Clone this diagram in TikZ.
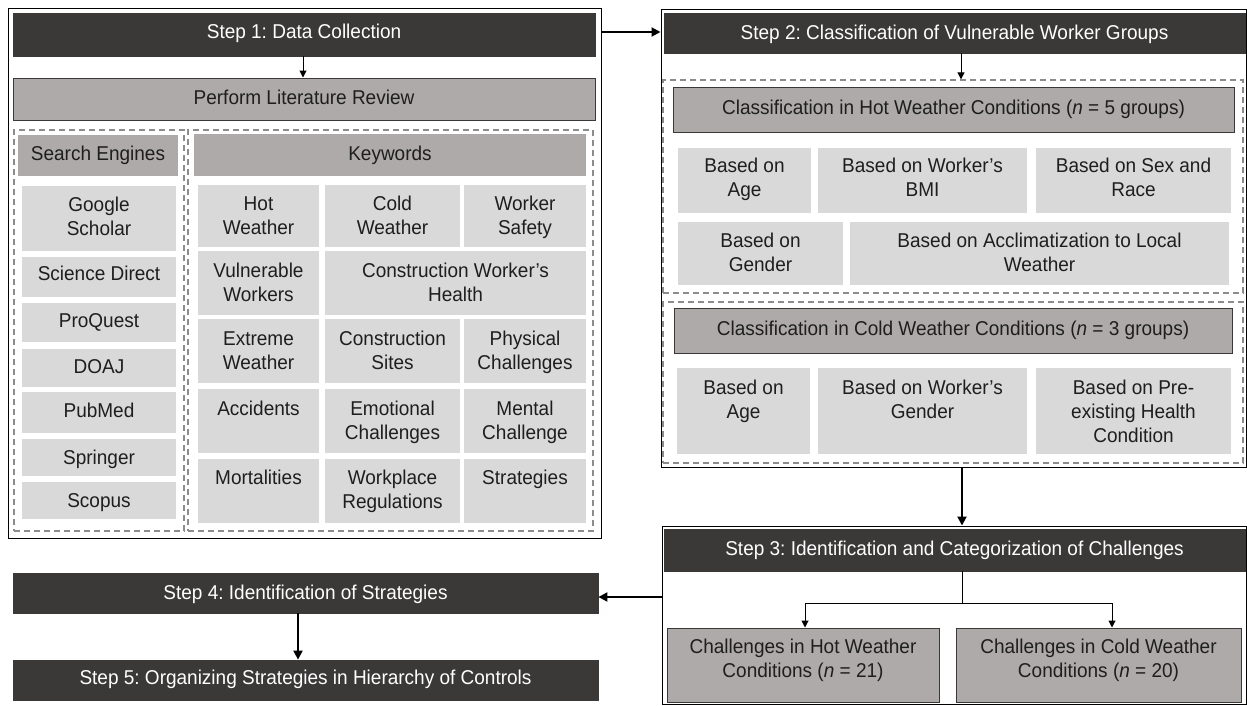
\documentclass[tikz,border=0pt]{standalone}
\usepackage{fontspec}
\setmainfont{Liberation Sans}[FakeStretch=0.95]
\usetikzlibrary{arrows.meta,fit,calc}
\frenchspacing

\definecolor{darkbar}{HTML}{3B3838}
\definecolor{midbar}{HTML}{AEAAAA}
\definecolor{lightcell}{HTML}{D9D9D9}
\definecolor{dashgray}{HTML}{8C8C8C}
\definecolor{ink}{HTML}{1E1E1E}

\tikzset{
  frame/.style={draw=black, line width=1pt, inner sep=0},
  stephead/.style={fill=darkbar, draw=darkbar, line width=0.8pt, inner sep=0},
  midbox/.style={fill=midbar, draw=darkbar, line width=1pt, inner sep=0},
  midcell/.style={fill=midbar, inner sep=0},
  cellbox/.style={fill=lightcell, inner sep=0},
  dashbox/.style={draw=dashgray, line width=1.3pt, dash pattern=on 6pt off 4pt, inner sep=0},
  txt/.style={inner sep=0, align=center, anchor=north, text=ink, font=\fontsize{20}{24}\selectfont},
  wtxt/.style={txt, text=white},
  thinarrow/.style={draw=black, line width=1pt, -{Triangle[length=7pt,width=7pt]}},
  thickarrow/.style={draw=black, line width=2pt, -{Triangle[length=9pt,width=9pt]}},
}

% \cell{box style}{name}{x1}{y1}{x2}{y2}{text style}{first line centre y}{text}
\newcommand\cell[9]{%
  \node[#1, fit={(#3,#4) (#5,#6)}] (#2) {};
  \node[#7] (#2-t) at ({(#3+#5)/2},{#8-9.6}) {\strut #9};}

\begin{document}
\begin{tikzpicture}[x=1pt,y=-1pt]
\useasboundingbox (0,0) rectangle (1247,705);

% ---------------- Step 1 ----------------
\node[frame, fit={(8,8) (601,538)}] (s1frame) {};
\cell{stephead}{s1head}{13}{13}{595}{56}{wtxt}{31}{Step 1: Data Collection}
\cell{midbox}{litrev}{13}{78}{595}{120}{txt}{97}{Perform Literature Review}
\node[dashbox, fit={(14,130) (184,531)}] (sedash) {};
\node[dashbox, fit={(188,130) (593,531)}] (kwdash) {};
\cell{midcell}{sehead}{18}{135}{178}{176}{txt}{153}{Search Engines}
\cell{midcell}{kwhead}{194}{134}{586}{176}{txt}{153}{Keywords}

\cell{cellbox}{se1}{22}{186}{176}{251}{txt}{204}{Google\\Scholar}
\cell{cellbox}{se2}{22}{257}{176}{297}{txt}{273}{Science Direct}
\cell{cellbox}{se3}{22}{303}{176}{342}{txt}{320}{ProQuest}
\cell{cellbox}{se4}{22}{349}{176}{387}{txt}{366}{DOAJ}
\cell{cellbox}{se5}{22}{392}{176}{433}{txt}{410}{PubMed}
\cell{cellbox}{se6}{22}{439}{176}{476}{txt}{457}{Springer}
\cell{cellbox}{se7}{22}{482}{176}{519}{txt}{500}{Scopus}

\cell{cellbox}{kw11}{198}{185}{319}{247}{txt}{203}{Hot\\Weather}
\cell{cellbox}{kw12}{325}{185}{460}{247}{txt}{203}{Cold\\Weather}
\cell{cellbox}{kw13}{464}{185}{586}{247}{txt}{203}{Worker\\Safety}
\cell{cellbox}{kw21}{198}{251}{319}{315}{txt}{270}{Vulnerable\\Workers}
\cell{cellbox}{kw22}{325}{251}{586}{315}{txt}{270}{Construction Worker’s\\Health}
\cell{cellbox}{kw31}{198}{319}{319}{383}{txt}{338}{Extreme\\Weather}
\cell{cellbox}{kw32}{325}{319}{460}{383}{txt}{338}{Construction\\Sites}
\cell{cellbox}{kw33}{464}{319}{586}{383}{txt}{338}{Physical\\Challenges}
\cell{cellbox}{kw41}{198}{389}{319}{453}{txt}{408}{Accidents}
\cell{cellbox}{kw42}{325}{389}{460}{453}{txt}{408}{Emotional\\Challenges}
\cell{cellbox}{kw43}{464}{389}{586}{453}{txt}{408}{Mental\\Challenge}
\cell{cellbox}{kw51}{198}{459}{319}{523}{txt}{477}{Mortalities}
\cell{cellbox}{kw52}{325}{459}{460}{523}{txt}{477}{Workplace\\Regulations}
\cell{cellbox}{kw53}{464}{459}{586}{523}{txt}{477}{Strategies}

% ---------------- Step 2 ----------------
\node[frame, fit={(661,9) (1246,467)}] (s2frame) {};
\cell{stephead}{s2head}{664}{13}{1245}{53}{wtxt}{32}{Step 2: Classification of Vulnerable Worker Groups}
\node[dashbox, fit={(663,80) (1243,293)}] (hotdash) {};
\cell{midbox}{hotcls}{673}{87}{1234}{132}{txt}{107}{Classification in Hot Weather Conditions (\textit{n} = 5 groups)}
\cell{cellbox}{h1}{678}{148}{811}{213}{txt}{165}{Based on\\Age}
\cell{cellbox}{h2}{818}{148}{1027}{213}{txt}{165}{Based on Worker's\\BMI}
\cell{cellbox}{h3}{1036}{148}{1231}{213}{txt}{165}{Based on Sex and\\Race}
\cell{cellbox}{h4}{678}{222}{843}{285}{txt}{240}{Based on\\Gender}
\cell{cellbox}{h5}{850}{222}{1229}{285}{txt}{240}{Based on Acclimatization to Local\\Weather}

\node[dashbox, fit={(663,302) (1243,463)}] (colddash) {};
\cell{midbox}{coldcls}{674}{308}{1232}{353}{txt}{328}{Classification in Cold Weather Conditions (\textit{n} = 3 groups)}
\cell{cellbox}{c1}{677}{368}{810}{454}{txt}{387}{Based on\\Age}
\cell{cellbox}{c2}{818}{368}{1027}{454}{txt}{387}{Based on Worker's\\Gender}
\cell{cellbox}{c3}{1036}{368}{1231}{454}{txt}{387}{Based on Pre-\\existing Health\\Condition}

% ---------------- Step 3 ----------------
\node[frame, fit={(662,526) (1246,704)}] (s3frame) {};
\cell{stephead}{s3head}{664}{529}{1245}{571}{wtxt}{548}{Step 3: Identification and Categorization of Challenges}
\cell{midbox}{hotch}{667}{628}{939}{702}{txt}{646}{Challenges in Hot Weather\\Conditions (\textit{n} = 21)}
\cell{midbox}{coldch}{956}{628}{1241}{702}{txt}{646}{Challenges in Cold Weather\\Conditions (\textit{n} = 20)}

% ---------------- Steps 4 and 5 ----------------
\cell{stephead}{s4}{13}{573}{598}{613}{wtxt}{592}{Step 4: Identification of Strategies}
\cell{stephead}{s5}{13}{660}{598}{700}{wtxt}{677}{Step 5: Organizing Strategies in Hierarchy of Controls}

% ---------------- Connectors ----------------
\draw[thinarrow] (s1head.south -| 303,0) -- (litrev.north -| 303,0);
\draw[thickarrow] (s1frame.east |- 0,32) -- (s2frame.west |- 0,32);
\draw[thinarrow] (s2head.south -| 961,0) -- (hotdash.north -| 961,0);
\draw[thickarrow] (s2frame.south -| 962,0) -- (s3frame.north -| 962,0);
\coordinate (split) at (962,603);
\draw[line width=1pt] (s3head.south -| split) -- (split);
\draw[thinarrow] (split) -| (hotch.north -| 805,0);
\draw[thinarrow] (split) -| (coldch.north -| 1112,0);
\draw[thickarrow] (s3frame.west |- 0,597) -- (s4.east |- 0,597);
\draw[thickarrow] (s4.south -| 298,0) -- (s5.north -| 298,0);
\end{tikzpicture}
\end{document}
